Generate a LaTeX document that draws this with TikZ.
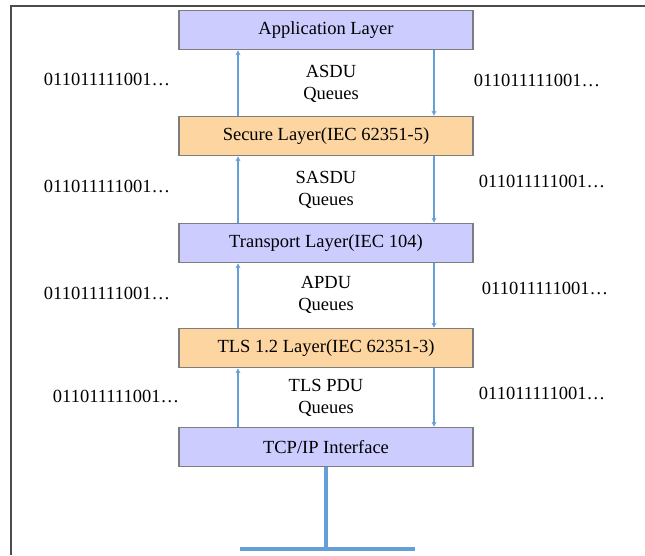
\documentclass[tikz,border=0pt]{standalone}
\usepackage{fontspec}
\setmainfont{Liberation Serif}
\usetikzlibrary{arrows.meta}
\definecolor{layerblue}{RGB}{204,204,255}
\definecolor{layerpeach}{RGB}{252,213,160}
\definecolor{boxedge}{RGB}{125,125,125}
\definecolor{flow}{RGB}{100,160,215}
\tikzset{
  txt/.style={font=\fontsize{18.5}{21.5}\selectfont},
  layer/.style={txt, draw=boxedge, line width=1.6pt, minimum width=294pt, minimum height=39pt,
                inner sep=0pt},
  plain/.style={layer, fill=layerblue},
  secure/.style={layer, fill=layerpeach},
  bits/.style={txt, inner sep=0pt},
  queue/.style={txt, align=center, inner sep=0pt},
  flowline/.style={draw=flow, line width=1.8pt, -{Stealth[length=5pt,width=5pt]}},
  frame/.style={draw=black!70, line width=1.8pt}
}
\begin{document}
\begin{tikzpicture}[x=1pt,y=-1pt]
\useasboundingbox (0,0) rectangle (645,555);
% outer frame (top and left edges only)
\coordinate (fTL) at (11,6);
\coordinate (fTR) at (645,6);
\coordinate (fBL) at (11,555);
\draw[frame] (fTR) -- (fTL) -- (fBL);

% protocol stack
\node[plain]  (app) at (326,30)  {Application Layer};
\node[secure] (sec) at (326,136) {Secure Layer(IEC 62351-5)};
\node[plain]  (tra) at (326,243) {Transport Layer(IEC 104)};
\node[secure] (tls) at (326,348) {TLS 1.2 Layer(IEC 62351-3)};
\node[plain]  (tcp) at (326,447) {TCP/IP Interface};

% up (left) and down (right) flows between neighbouring layers
\foreach \lo/\hi in {sec/app, tra/sec, tls/tra, tcp/tls}{
  \draw[flowline] ([xshift=-88pt]\lo.north) -- ([xshift=-88pt]\hi.south);
  \draw[flowline] ([xshift=108pt]\hi.south) -- ([xshift=108pt]\lo.north);
}

% queue labels
\node[queue] (q1) at (331,84)  {ASDU\\Queues};
\node[queue] (q2) at (326,190) {SASDU\\Queues};
\node[queue] (q3) at (326,295) {APDU\\Queues};
\node[queue] (q4) at (326,398) {TLS PDU\\Queues};

% bit streams
\node[bits] (l1) at (107,79)  {011011111001…};
\node[bits] (r1) at (537,80)  {011011111001…};
\node[bits] (l2) at (107,186) {011011111001…};
\node[bits] (r2) at (542,181) {011011111001…};
\node[bits] (l3) at (107,293) {011011111001…};
\node[bits] (r3) at (545,288) {011011111001…};
\node[bits] (l4) at (116,396) {011011111001…};
\node[bits] (r4) at (542,393) {011011111001…};

% network attachment
\coordinate (busL) at (240,549);
\coordinate (busR) at (415,549);
\draw[flow, line width=4pt] (tcp.south) -- (tcp.south |- busL);
\draw[flow, line width=4pt] (busL) -- (busR);
\end{tikzpicture}
\end{document}
